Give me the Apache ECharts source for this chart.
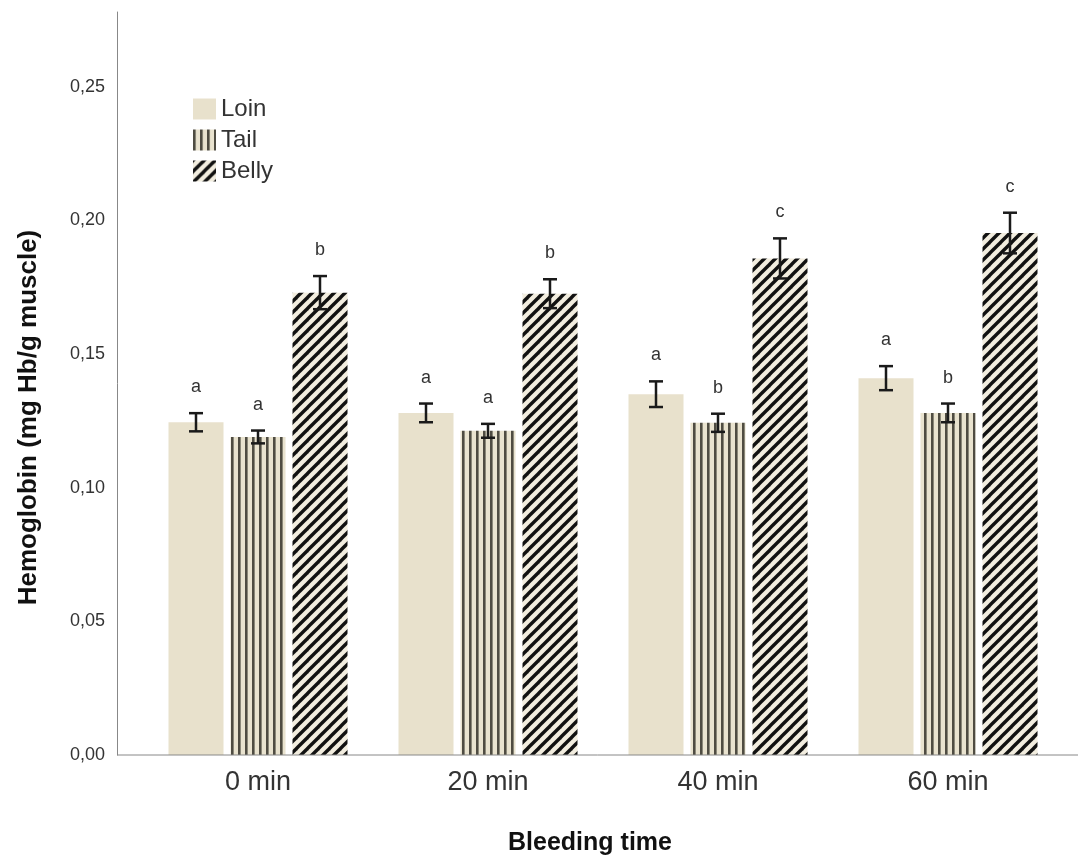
<!DOCTYPE html>
<html><head><meta charset="utf-8">
<script src="https://cdn.jsdelivr.net/npm/echarts@6/dist/echarts.min.js"></script>
<style>html,body{margin:0;padding:0;background:#fff}#c{width:1078px;height:861px}</style>
</head><body><div id="c"></div>
<script>
const categories = ['0 min', '20 min', '40 min', '60 min'];
const seriesNames = ['Loin', 'Tail', 'Belly'];
const loin = [0.1245, 0.1280, 0.1350, 0.1410];
const tail = [0.1190, 0.1213, 0.1243, 0.1280];
const belly = [0.1730, 0.1726, 0.1858, 0.1953];
const loinErr = [0.0034, 0.0035, 0.0048, 0.0045];
const tailErr = [0.0024, 0.0026, 0.0034, 0.0035];
const bellyErr = [0.0062, 0.0054, 0.0075, 0.0076];
const loinLetters = ['a', 'a', 'a', 'a'];
const tailLetters = ['a', 'a', 'b', 'b'];
const bellyLetters = ['b', 'b', 'c', 'c'];
const yMin = 0, yMax = 0.278, yInterval = 0.05;

const FONT = '"Liberation Sans", Arial, sans-serif';
const BEIGE = '#e8e1cc';
const GRID_LEFT = 143, Y_OFFSET = 26;
const BAR_W = 55, BAR_GAP_PX = 7;

function stripePattern() {
  const c = document.createElement('canvas');
  c.width = 7; c.height = 7;
  const g = c.getContext('2d');
  g.fillStyle = '#e9e3cf'; g.fillRect(0, 0, 7, 7);
  g.fillStyle = '#4f4c42'; g.fillRect(0, 0, 2.6, 7);
  return { image: c, repeat: 'repeat' };
}
function diagPattern() {
  const s = 11;
  const c = document.createElement('canvas');
  c.width = s; c.height = s;
  const g = c.getContext('2d');
  g.fillStyle = '#f2eddf'; g.fillRect(0, 0, s, s);
  g.strokeStyle = '#111'; g.lineWidth = 3.4; g.lineCap = 'square';
  for (let k = -1; k <= 1; k++) {
    g.beginPath();
    g.moveTo(k * s - 2, s + 2);
    g.lineTo(k * s + s + 2, -2);
    g.stroke();
  }
  return { image: c, repeat: 'repeat' };
}

const fills = [BEIGE, stripePattern(), diagPattern()];
const values = [loin, tail, belly];
const errs = [loinErr, tailErr, bellyErr];
const letters = [loinLetters, tailLetters, bellyLetters];

const barSeries = seriesNames.map((n, k) => ({
  type: 'bar', name: n, data: values[k],
  barWidth: BAR_W, barGap: (BAR_GAP_PX / BAR_W * 100) + '%',
  itemStyle: { color: fills[k] },
  emphasis: { disabled: true },
  z: 2
}));

const errSeries = seriesNames.map((n, k) => ({
  type: 'custom', name: n + ' err',
  data: values[k].map((v, i) => [i, v - errs[k][i], v + errs[k][i], letters[k][i]]),
  encode: { x: 0, y: [1, 2] },
  z: 5,
  silent: true,
  renderItem: function (params, api) {
    const i = api.value(0);
    const lo = api.coord([i, api.value(1)]);
    const hi = api.coord([i, api.value(2)]);
    const x = lo[0] + (k - 1) * (BAR_W + BAR_GAP_PX);
    const cap = 7;
    const st = { stroke: '#1a1a1a', lineWidth: 2.5 };
    return {
      type: 'group',
      children: [
        { type: 'line', shape: { x1: x, y1: lo[1], x2: x, y2: hi[1] }, style: st },
        { type: 'line', shape: { x1: x - cap, y1: lo[1], x2: x + cap, y2: lo[1] }, style: st },
        { type: 'line', shape: { x1: x - cap, y1: hi[1], x2: x + cap, y2: hi[1] }, style: st },
        { type: 'text', x: x, y: hi[1] - 26,
          style: { text: letters[k][i], fill: '#333', font: '18px ' + FONT, align: 'center', verticalAlign: 'middle' } }
      ]
    };
  }
}));

const chart = echarts.init(document.getElementById('c'), null, { renderer: 'canvas' });
chart.setOption({
  backgroundColor: '#fff',
  animation: false,
  textStyle: { fontFamily: FONT },
  legend: {
    data: seriesNames, orient: 'vertical', left: 193, top: 97, padding: 0,
    itemWidth: 23, itemHeight: 21, itemGap: 7, icon: 'rect',
    textStyle: { fontSize: 24, color: '#333', fontFamily: FONT },
    selectedMode: false
  },
  grid: { left: GRID_LEFT, right: 15, top: 12, bottom: 105, containLabel: false },
  xAxis: {
    type: 'category', data: categories,
    axisLine: { show: false }, axisTick: { show: false },
    axisLabel: { fontSize: 27, color: '#333', margin: 14, fontFamily: FONT },
    name: 'Bleeding time', nameLocation: 'middle', nameGap: 76,
    nameTextStyle: { fontSize: 25, fontWeight: 'bold', color: '#111', fontFamily: FONT, padding: [0, 26, 0, 0] }
  },
  yAxis: {
    type: 'value', min: yMin, max: yMax, interval: yInterval, offset: Y_OFFSET,
    axisLine: { show: true, lineStyle: { color: '#888', width: 1 } },
    axisTick: { show: false }, splitLine: { show: false },
    axisLabel: {
      fontSize: 18, color: '#333', margin: 12, showMaxLabel: false, fontFamily: FONT,
      formatter: v => v.toFixed(2).replace('.', ',')
    },
    name: 'Hemoglobin (mg Hb/g muscle)', nameLocation: 'middle', nameGap: 75,
    nameTextStyle: { fontSize: 26, fontWeight: 'bold', color: '#111', fontFamily: FONT, padding: [0, 68, 0, 0] }
  },
  series: barSeries.concat(errSeries)
});

const y0 = chart.convertToPixel({ yAxisIndex: 0 }, 0);
chart.setOption({
  graphic: [{
    type: 'line', z: 10,
    shape: { x1: GRID_LEFT - Y_OFFSET, y1: y0, x2: 1078, y2: y0 },
    style: { stroke: '#888', lineWidth: 1 }
  }]
});
</script></body></html>
